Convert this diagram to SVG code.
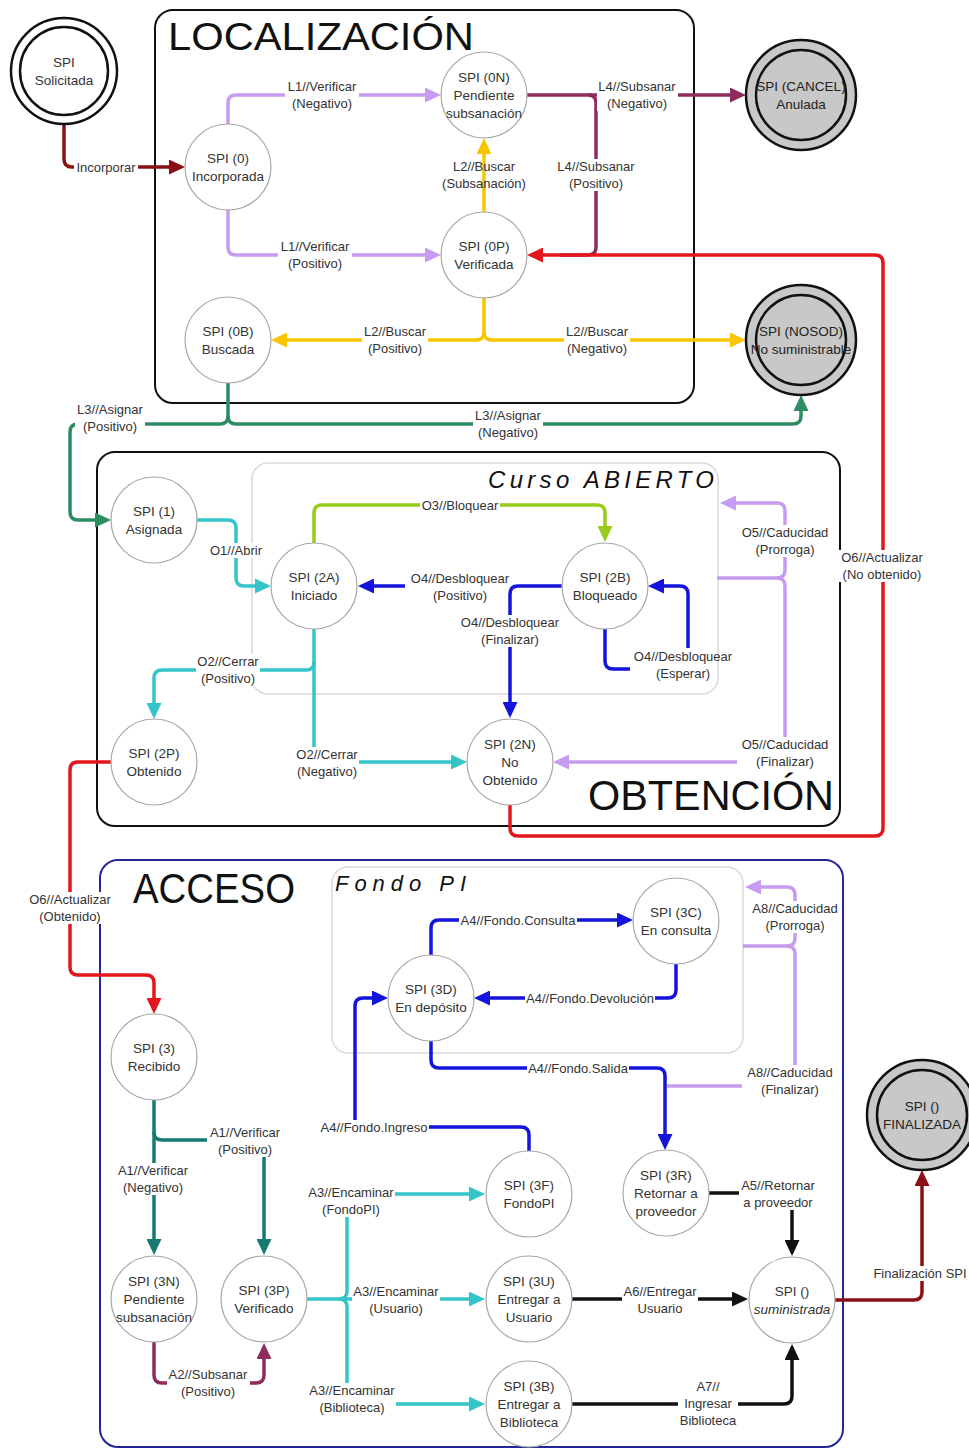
<svg xmlns="http://www.w3.org/2000/svg" width="969" height="1450" viewBox="0 0 969 1450">
<style>
.box{fill:none;stroke:#111;stroke-width:2}
.sub{fill:none;stroke:#d9d9d9;stroke-width:1.5}
.ttl{font-family:"Liberation Sans",Arial,sans-serif;fill:#111}
.itl{font-family:"Liberation Sans",Arial,sans-serif;font-style:italic;fill:#111}
.st{fill:#fff;stroke:#a8a8a8;stroke-width:1.2}
.fin{fill:#c8c8c8;stroke:#111;stroke-width:2.5}
.ini{fill:#fff;stroke:#111;stroke-width:2.5}
.nt{font-family:"Liberation Sans",Arial,sans-serif;font-size:13.5px;fill:#333;text-anchor:middle}
.lb{font-family:"Liberation Sans",Arial,sans-serif;font-size:13px;fill:#333;text-anchor:middle}
.bg{fill:#fff}
.c{fill:none;stroke-width:3.5;stroke-linejoin:round}
.pu{stroke:#c69cf0}.ye{stroke:#f7c600}.mr{stroke:#8e2d5c}.rd{stroke:#e3161c}.dr{stroke:#8a1015}
.gr{stroke:#2d8c62}.tl{stroke:#167a73}.cy{stroke:#35c5c8}.li{stroke:#99cc1a}.bl{stroke:#1414dc}.bk{stroke:#111}
</style>
<defs>
<marker id="m-pu" viewBox="0 0 16 15" refX="12" refY="7.5" markerWidth="16" markerHeight="15" markerUnits="userSpaceOnUse" orient="auto"><path d="M0,0 L16,7.5 L0,15 z" fill="#c69cf0"/></marker>
<marker id="m-ye" viewBox="0 0 16 15" refX="12" refY="7.5" markerWidth="16" markerHeight="15" markerUnits="userSpaceOnUse" orient="auto"><path d="M0,0 L16,7.5 L0,15 z" fill="#f7c600"/></marker>
<marker id="m-mr" viewBox="0 0 16 15" refX="12" refY="7.5" markerWidth="16" markerHeight="15" markerUnits="userSpaceOnUse" orient="auto"><path d="M0,0 L16,7.5 L0,15 z" fill="#8e2d5c"/></marker>
<marker id="m-rd" viewBox="0 0 16 15" refX="12" refY="7.5" markerWidth="16" markerHeight="15" markerUnits="userSpaceOnUse" orient="auto"><path d="M0,0 L16,7.5 L0,15 z" fill="#e3161c"/></marker>
<marker id="m-dr" viewBox="0 0 16 15" refX="12" refY="7.5" markerWidth="16" markerHeight="15" markerUnits="userSpaceOnUse" orient="auto"><path d="M0,0 L16,7.5 L0,15 z" fill="#8a1015"/></marker>
<marker id="m-gr" viewBox="0 0 16 15" refX="12" refY="7.5" markerWidth="16" markerHeight="15" markerUnits="userSpaceOnUse" orient="auto"><path d="M0,0 L16,7.5 L0,15 z" fill="#2d8c62"/></marker>
<marker id="m-tl" viewBox="0 0 16 15" refX="12" refY="7.5" markerWidth="16" markerHeight="15" markerUnits="userSpaceOnUse" orient="auto"><path d="M0,0 L16,7.5 L0,15 z" fill="#167a73"/></marker>
<marker id="m-cy" viewBox="0 0 16 15" refX="12" refY="7.5" markerWidth="16" markerHeight="15" markerUnits="userSpaceOnUse" orient="auto"><path d="M0,0 L16,7.5 L0,15 z" fill="#35c5c8"/></marker>
<marker id="m-li" viewBox="0 0 16 15" refX="12" refY="7.5" markerWidth="16" markerHeight="15" markerUnits="userSpaceOnUse" orient="auto"><path d="M0,0 L16,7.5 L0,15 z" fill="#99cc1a"/></marker>
<marker id="m-bl" viewBox="0 0 16 15" refX="12" refY="7.5" markerWidth="16" markerHeight="15" markerUnits="userSpaceOnUse" orient="auto"><path d="M0,0 L16,7.5 L0,15 z" fill="#1414dc"/></marker>
<marker id="m-bk" viewBox="0 0 16 15" refX="12" refY="7.5" markerWidth="16" markerHeight="15" markerUnits="userSpaceOnUse" orient="auto"><path d="M0,0 L16,7.5 L0,15 z" fill="#111"/></marker>
</defs>
<rect width="969" height="1450" fill="#fff"/>

<g id="containers">
<rect class="box" x="155" y="10" width="539" height="393" rx="18"/>
<text class="ttl" x="168" y="50" font-size="38" textLength="306" lengthAdjust="spacingAndGlyphs">LOCALIZACIÓN</text>
<rect class="box" x="97" y="452" width="743" height="374" rx="18"/>
<text class="ttl" x="588" y="810" font-size="42" textLength="246" lengthAdjust="spacingAndGlyphs">OBTENCIÓN</text>
<rect class="sub" x="252" y="463" width="466" height="231" rx="16"/>
<text class="itl" x="488" y="488" font-size="24" textLength="226" lengthAdjust="spacing">Curso ABIERTO</text>
<rect class="box" x="100" y="860" width="743" height="587" rx="18" style="stroke:#25259a"/>
<text class="ttl" x="133" y="903" font-size="42" textLength="162" lengthAdjust="spacingAndGlyphs">ACCESO</text>
<rect class="sub" x="332" y="867" width="411" height="186" rx="16"/>
<text class="itl" x="335" y="891" font-size="22" textLength="131" lengthAdjust="spacing">Fondo PI</text>
</g>

<g id="connectors">
<path class="c dr" d="M64,125 V159 Q64,167 72,167 H181" marker-end="url(#m-dr)"/>
<path class="c pu" d="M228,124 V103 Q228,95 236,95 H437" marker-end="url(#m-pu)"/>
<path class="c pu" d="M228,210 V247 Q228,255 236,255 H437" marker-end="url(#m-pu)"/>
<path class="c ye" d="M484,212 V142" marker-end="url(#m-ye)"/>
<path class="c mr" d="M527,95 H742" marker-end="url(#m-mr)"/>
<path class="c mr" d="M588,95 Q596,95 596,103 V247 Q596,255 588,255 H560"/>
<path class="c rd" d="M510,805 V828 Q510,836 518,836 H875 Q883,836 883,828 V263 Q883,255 875,255 H531" marker-end="url(#m-rd)"/>
<path class="c ye" d="M484,298 V332 Q484,340 476,340 H275" marker-end="url(#m-ye)"/>
<path class="c ye" d="M484,332 Q484,340 492,340 H742" marker-end="url(#m-ye)"/>
<path class="c gr" d="M228,383 V416 Q228,424 220,424 H78 Q70,424 70,432 V512 Q70,520 78,520 H107" marker-end="url(#m-gr)"/>
<path class="c gr" d="M228,416 Q228,424 236,424 H793 Q801,424 801,416 V399" marker-end="url(#m-gr)"/>
<path class="c cy" d="M197,520 H228 Q236,520 236,528 V578 Q236,586 244,586 H267" marker-end="url(#m-cy)"/>
<path class="c li" d="M314,543 V513 Q314,505 322,505 H597 Q605,505 605,513 V538" marker-end="url(#m-li)"/>
<path class="c bl" d="M405,586 H362" marker-end="url(#m-bl)"/>
<path class="c bl" d="M562,586 H518 Q510,586 510,594 V714" marker-end="url(#m-bl)"/>
<path class="c bl" d="M605,629 V661 Q605,669 613,669 H630"/>
<path class="c bl" d="M688,648 V594 Q688,586 680,586 H652" marker-end="url(#m-bl)"/>
<path class="c cy" d="M314,629 V754 Q314,762 322,762 H463" marker-end="url(#m-cy)"/>
<path class="c cy" d="M314,662 Q314,670 306,670 H162 Q154,670 154,678 V715" marker-end="url(#m-cy)"/>
<path class="c pu" d="M717,578 H777 Q785,578 785,570 V511 Q785,503 777,503 H724" marker-end="url(#m-pu)"/>
<path class="c pu" d="M777,578 Q785,578 785,586 V754 Q785,762 777,762 H557" marker-end="url(#m-pu)"/>
<path class="c rd" d="M111,762 H78 Q70,762 70,770 V967 Q70,975 78,975 H146 Q154,975 154,983 V1010" marker-end="url(#m-rd)"/>
<path class="c bl" d="M431,955 V928 Q431,920 439,920 H629" marker-end="url(#m-bl)"/>
<path class="c bl" d="M676,964 V990 Q676,998 668,998 H478" marker-end="url(#m-bl)"/>
<path class="c pu" d="M743,946 H787 Q795,946 795,938 V895 Q795,887 787,887 H749" marker-end="url(#m-pu)"/>
<path class="c pu" d="M787,946 Q795,946 795,954 V1078 Q795,1086 787,1086 H667"/>
<path class="c bl" d="M431,1041 V1060 Q431,1068 439,1068 H657 Q665,1068 665,1076 V1146" marker-end="url(#m-bl)"/>
<path class="c bl" d="M529,1151 V1135 Q529,1127 521,1127 H363 Q355,1127 355,1119 V1006 Q355,998 363,998 H384" marker-end="url(#m-bl)"/>
<path class="c tl" d="M154,1100 V1251" marker-end="url(#m-tl)"/>
<path class="c tl" d="M154,1132 Q154,1140 162,1140 H256 Q264,1140 264,1148 V1251" marker-end="url(#m-tl)"/>
<path class="c mr" d="M154,1342 V1375 Q154,1383 162,1383 H256 Q264,1383 264,1375 V1347" marker-end="url(#m-mr)"/>
<path class="c cy" d="M307,1299 H481" marker-end="url(#m-cy)"/>
<path class="c cy" d="M339,1299 Q347,1299 347,1291 V1202 Q347,1194 355,1194 H481" marker-end="url(#m-cy)"/>
<path class="c cy" d="M339,1299 Q347,1299 347,1307 V1396 Q347,1404 355,1404 H481" marker-end="url(#m-cy)"/>
<path class="c bk" d="M572,1299 H744" marker-end="url(#m-bk)"/>
<path class="c bk" d="M572,1404 H784 Q792,1404 792,1396 V1348" marker-end="url(#m-bk)"/>
<path class="c bk" d="M709,1193 H784 Q792,1193 792,1201 V1252" marker-end="url(#m-bk)"/>
<path class="c dr" d="M835,1300 H914 Q922,1300 922,1292 V1174" marker-end="url(#m-dr)"/>

<g id="labels">
<rect class="bg" x="74" y="160" width="64" height="15"/>
<text class="lb" x="106" y="171.5">Incorporar</text>
<rect class="bg" x="285" y="79" width="74" height="32"/>
<text class="lb"><tspan x="322" y="90.5">L1//Verificar</tspan><tspan x="322" y="107.5">(Negativo)</tspan></text>
<rect class="bg" x="278" y="239" width="74" height="32"/>
<text class="lb"><tspan x="315" y="250.5">L1//Verificar</tspan><tspan x="315" y="267.5">(Positivo)</tspan></text>
<text class="lb"><tspan x="484" y="170.5">L2//Buscar</tspan><tspan x="484" y="187.5">(Subsanación)</tspan></text>
<rect class="bg" x="597" y="79" width="81" height="32"/>
<text class="lb"><tspan x="637" y="90.5">L4//Subsanar</tspan><tspan x="637" y="107.5">(Negativo)</tspan></text>
<rect class="bg" x="556" y="159" width="81" height="32"/>
<text class="lb"><tspan x="596" y="170.5">L4//Subsanar</tspan><tspan x="596" y="187.5">(Positivo)</tspan></text>
<rect class="bg" x="839" y="550" width="87" height="32"/>
<text class="lb"><tspan x="882" y="561.5">O6//Actualizar</tspan><tspan x="882" y="578.5">(No obtenido)</tspan></text>
<rect class="bg" x="362" y="324" width="66" height="32"/>
<text class="lb"><tspan x="395" y="335.5">L2//Buscar</tspan><tspan x="395" y="352.5">(Positivo)</tspan></text>
<rect class="bg" x="564" y="324" width="66" height="32"/>
<text class="lb"><tspan x="597" y="335.5">L2//Buscar</tspan><tspan x="597" y="352.5">(Negativo)</tspan></text>
<rect class="bg" x="75" y="402" width="70" height="32"/>
<text class="lb"><tspan x="110" y="413.5">L3//Asignar</tspan><tspan x="110" y="430.5">(Positivo)</tspan></text>
<rect class="bg" x="473" y="408" width="70" height="32"/>
<text class="lb"><tspan x="508" y="419.5">L3//Asignar</tspan><tspan x="508" y="436.5">(Negativo)</tspan></text>
<rect class="bg" x="208" y="543" width="56" height="15"/>
<text class="lb" x="236" y="554.5">O1//Abrir</text>
<rect class="bg" x="420" y="498" width="80" height="15"/>
<text class="lb" x="460" y="509.5">O3//Bloquear</text>
<text class="lb"><tspan x="460" y="582.5">O4//Desbloquear</tspan><tspan x="460" y="599.5">(Positivo)</tspan></text>
<rect class="bg" x="459" y="615" width="102" height="32"/>
<text class="lb"><tspan x="510" y="626.5">O4//Desbloquear</tspan><tspan x="510" y="643.5">(Finalizar)</tspan></text>
<text class="lb"><tspan x="683" y="660.5">O4//Desbloquear</tspan><tspan x="683" y="677.5">(Esperar)</tspan></text>
<rect class="bg" x="196" y="654" width="64" height="32"/>
<text class="lb"><tspan x="228" y="665.5">O2//Cerrar</tspan><tspan x="228" y="682.5">(Positivo)</tspan></text>
<rect class="bg" x="295" y="747" width="64" height="32"/>
<text class="lb"><tspan x="327" y="758.5">O2//Cerrar</tspan><tspan x="327" y="775.5">(Negativo)</tspan></text>
<rect class="bg" x="740" y="525" width="90" height="32"/>
<text class="lb"><tspan x="785" y="536.5">O5//Caducidad</tspan><tspan x="785" y="553.5">(Prorroga)</tspan></text>
<rect class="bg" x="737" y="737" width="96" height="32"/>
<text class="lb"><tspan x="785" y="748.5">O5//Caducidad</tspan><tspan x="785" y="765.5">(Finalizar)</tspan></text>
<rect class="bg" x="28" y="892" width="86" height="32"/>
<text class="lb"><tspan x="70" y="903.5">O6//Actualizar</tspan><tspan x="70" y="920.5">(Obtenido)</tspan></text>
<rect class="bg" x="459" y="913" width="118" height="15"/>
<text class="lb" x="518" y="924.5">A4//Fondo.Consulta</text>
<rect class="bg" x="525" y="991" width="130" height="15"/>
<text class="lb" x="590" y="1002.5">A4//Fondo.Devolución</text>
<rect class="bg" x="527" y="1061" width="102" height="15"/>
<text class="lb" x="578" y="1072.5">A4//Fondo.Salida</text>
<rect class="bg" x="319" y="1120" width="110" height="15"/>
<text class="lb" x="374" y="1131.5">A4//Fondo.Ingreso</text>
<rect class="bg" x="750" y="901" width="90" height="32"/>
<text class="lb"><tspan x="795" y="912.5">A8//Caducidad</tspan><tspan x="795" y="929.5">(Prorroga)</tspan></text>
<rect class="bg" x="742" y="1065" width="96" height="32"/>
<text class="lb"><tspan x="790" y="1076.5">A8//Caducidad</tspan><tspan x="790" y="1093.5">(Finalizar)</tspan></text>
<rect class="bg" x="207" y="1125" width="76" height="32"/>
<text class="lb"><tspan x="245" y="1136.5">A1//Verificar</tspan><tspan x="245" y="1153.5">(Positivo)</tspan></text>
<rect class="bg" x="115" y="1163" width="76" height="32"/>
<text class="lb"><tspan x="153" y="1174.5">A1//Verificar</tspan><tspan x="153" y="1191.5">(Negativo)</tspan></text>
<rect class="bg" x="167" y="1367" width="83" height="32"/>
<text class="lb"><tspan x="208" y="1378.5">A2//Subsanar</tspan><tspan x="208" y="1395.5">(Positivo)</tspan></text>
<rect class="bg" x="307" y="1185" width="88" height="32"/>
<text class="lb"><tspan x="351" y="1196.5">A3//Encaminar</tspan><tspan x="351" y="1213.5">(FondoPI)</tspan></text>
<rect class="bg" x="352" y="1284" width="88" height="32"/>
<text class="lb"><tspan x="396" y="1295.5">A3//Encaminar</tspan><tspan x="396" y="1312.5">(Usuario)</tspan></text>
<rect class="bg" x="308" y="1383" width="88" height="32"/>
<text class="lb"><tspan x="352" y="1394.5">A3//Encaminar</tspan><tspan x="352" y="1411.5">(Biblioteca)</tspan></text>
<rect class="bg" x="622" y="1284" width="76" height="32"/>
<text class="lb"><tspan x="660" y="1295.5">A6//Entregar</tspan><tspan x="660" y="1312.5">Usuario</tspan></text>
<rect class="bg" x="678" y="1379" width="60" height="49"/>
<text class="lb"><tspan x="708" y="1390.5">A7//</tspan><tspan x="708" y="1407.5">Ingresar</tspan><tspan x="708" y="1424.5">Biblioteca</tspan></text>
<rect class="bg" x="739" y="1178" width="78" height="32"/>
<text class="lb"><tspan x="778" y="1189.5">A5//Retornar</tspan><tspan x="778" y="1206.5">a proveedor</tspan></text>
<rect class="bg" x="872" y="1266" width="97" height="15"/>
<text class="lb" x="920" y="1277.5">Finalización SPI</text>
</g>
</g>

<g id="n-solicitada"><circle class="ini" cx="64" cy="71" r="53"/><circle class="ini" cx="64" cy="71" r="44"/><text class="nt"><tspan x="64" y="66.5">SPI</tspan><tspan x="64" y="84.5">Solicitada</tspan></text></g>
<g id="n-0"><circle class="st" cx="228" cy="167" r="43"/><text class="nt"><tspan x="228" y="162.5">SPI (0)</tspan><tspan x="228" y="180.5">Incorporada</tspan></text></g>
<g id="n-0N"><circle class="st" cx="484" cy="95" r="43"/><text class="nt"><tspan x="484" y="81.5">SPI (0N)</tspan><tspan x="484" y="99.5">Pendiente</tspan><tspan x="484" y="117.5">subsanación</tspan></text></g>
<g id="n-0P"><circle class="st" cx="484" cy="255" r="43"/><text class="nt"><tspan x="484" y="250.5">SPI (0P)</tspan><tspan x="484" y="268.5">Verificada</tspan></text></g>
<g id="n-0B"><circle class="st" cx="228" cy="340" r="43"/><text class="nt"><tspan x="228" y="335.5">SPI (0B)</tspan><tspan x="228" y="353.5">Buscada</tspan></text></g>
<g id="n-cancel"><circle class="fin" cx="801" cy="95" r="55"/><circle class="fin" cx="801" cy="95" r="45"/><text class="nt" style="fill:#222"><tspan x="801" y="90.5">SPI (CANCEL)</tspan><tspan x="801" y="108.5">Anulada</tspan></text></g>
<g id="n-nosod"><circle class="fin" cx="801" cy="340" r="55"/><circle class="fin" cx="801" cy="340" r="45"/><text class="nt" style="fill:#222"><tspan x="801" y="335.5">SPI (NOSOD)</tspan><tspan x="801" y="353.5">No suministrable</tspan></text></g>
<g id="n-1"><circle class="st" cx="154" cy="520" r="43"/><text class="nt"><tspan x="154" y="515.5">SPI (1)</tspan><tspan x="154" y="533.5">Asignada</tspan></text></g>
<g id="n-2A"><circle class="st" cx="314" cy="586" r="43"/><text class="nt"><tspan x="314" y="581.5">SPI (2A)</tspan><tspan x="314" y="599.5">Iniciado</tspan></text></g>
<g id="n-2B"><circle class="st" cx="605" cy="586" r="43"/><text class="nt"><tspan x="605" y="581.5">SPI (2B)</tspan><tspan x="605" y="599.5">Bloqueado</tspan></text></g>
<g id="n-2P"><circle class="st" cx="154" cy="762" r="43"/><text class="nt"><tspan x="154" y="757.5">SPI (2P)</tspan><tspan x="154" y="775.5">Obtenido</tspan></text></g>
<g id="n-2N"><circle class="st" cx="510" cy="762" r="43"/><text class="nt"><tspan x="510" y="748.5">SPI (2N)</tspan><tspan x="510" y="766.5">No</tspan><tspan x="510" y="784.5">Obtenido</tspan></text></g>
<g id="n-3C"><circle class="st" cx="676" cy="921" r="43"/><text class="nt"><tspan x="676" y="916.5">SPI (3C)</tspan><tspan x="676" y="934.5">En consulta</tspan></text></g>
<g id="n-3D"><circle class="st" cx="431" cy="998" r="43"/><text class="nt"><tspan x="431" y="993.5">SPI (3D)</tspan><tspan x="431" y="1011.5">En depósito</tspan></text></g>
<g id="n-3"><circle class="st" cx="154" cy="1057" r="43"/><text class="nt"><tspan x="154" y="1052.5">SPI (3)</tspan><tspan x="154" y="1070.5">Recibido</tspan></text></g>
<g id="n-3N"><circle class="st" cx="154" cy="1299" r="43"/><text class="nt"><tspan x="154" y="1285.5">SPI (3N)</tspan><tspan x="154" y="1303.5">Pendiente</tspan><tspan x="154" y="1321.5">subsanación</tspan></text></g>
<g id="n-3P"><circle class="st" cx="264" cy="1299" r="43"/><text class="nt"><tspan x="264" y="1294.5">SPI (3P)</tspan><tspan x="264" y="1312.5">Verificado</tspan></text></g>
<g id="n-3F"><circle class="st" cx="529" cy="1194" r="43"/><text class="nt"><tspan x="529" y="1189.5">SPI (3F)</tspan><tspan x="529" y="1207.5">FondoPI</tspan></text></g>
<g id="n-3U"><circle class="st" cx="529" cy="1299" r="43"/><text class="nt"><tspan x="529" y="1285.5">SPI (3U)</tspan><tspan x="529" y="1303.5">Entregar a</tspan><tspan x="529" y="1321.5">Usuario</tspan></text></g>
<g id="n-3B"><circle class="st" cx="529" cy="1404" r="43"/><text class="nt"><tspan x="529" y="1390.5">SPI (3B)</tspan><tspan x="529" y="1408.5">Entregar a</tspan><tspan x="529" y="1426.5">Biblioteca</tspan></text></g>
<g id="n-3R"><circle class="st" cx="666" cy="1193" r="43"/><text class="nt"><tspan x="666" y="1179.5">SPI (3R)</tspan><tspan x="666" y="1197.5">Retornar a</tspan><tspan x="666" y="1215.5">proveedor</tspan></text></g>
<g id="n-sum"><circle class="st" cx="792" cy="1300" r="43"/><text class="nt"><tspan x="792" y="1295.5">SPI ()</tspan><tspan x="792" y="1313.5" font-style="italic">suministrada</tspan></text></g>
<g id="n-final"><circle class="fin" cx="922" cy="1115" r="55"/><circle class="fin" cx="922" cy="1115" r="45"/><text class="nt" style="fill:#222"><tspan x="922" y="1110.5">SPI ()</tspan><tspan x="922" y="1128.5">FINALIZADA</tspan></text></g>
</svg>
